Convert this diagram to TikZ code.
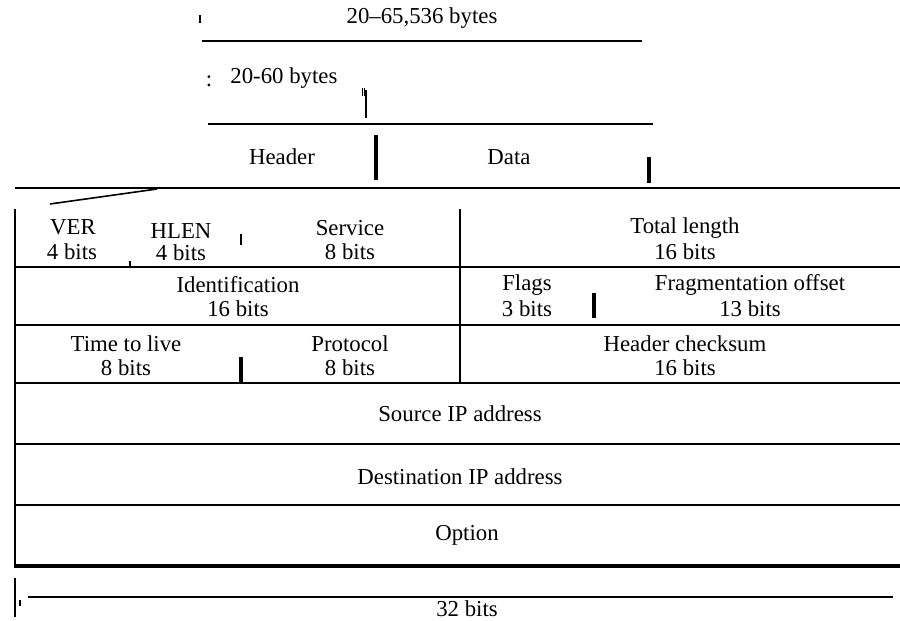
\documentclass[tikz,border=0pt]{standalone}
\usepackage{fontspec}
\setmainfont{Liberation Serif}
\begin{document}
\begin{tikzpicture}[x=0.5pt,y=-0.5pt,
  lbl/.style={inner sep=0pt,font=\fontsize{11.4}{13}\selectfont},
  rule/.style={line width=0.6pt},
  bar/.style={line width=2.4pt},
  tick/.style={line width=0.8pt}]
\useasboundingbox (0,0) rectangle (900,621);
% top: total length
\draw[tick] (200,15) -- (200,23);
\node[lbl] (tot) at (422,18) {20--65,536 bytes};
\draw[rule] (202,41) -- (642,41);
% header length
\node[lbl,anchor=west] (hdr) at (230,78) {20-60 bytes};
\node[lbl] (colon) at (209,81) {:};
\draw[line width=0.5pt] (362,88) -- (362,96) (364,88) -- (364,96);
\draw[tick] (366,90) -- (366,118);
\draw[rule] (208,124) -- (653,124);
% header / data
\node[lbl] (header) at (282,157) {Header};
\node[lbl] (data) at (509,157) {Data};
\draw[bar] (376,135) -- (376,180);
\draw[line width=1.6pt] (649,157) -- (649,183);
\draw[rule] (15,188) -- (900,188);
\draw[line width=0.8pt] (50,204) -- (157,189);
% table frame
\draw[rule] (15,209) -- (15,567);
\draw[rule] (460,209) -- (460,383);
\draw[rule] (15,267) -- (900,267);
\draw[rule] (15,325) -- (900,325);
\draw[rule] (15,383) -- (900,383);
\draw[rule] (15,444) -- (900,444);
\draw[rule] (15,505) -- (900,505);
\draw[line width=2.2pt] (14,566) -- (900,566);
% inner ticks
\draw[tick] (130,261) -- (130,268);
\draw[tick] (241,234) -- (241,245);
\draw[line width=1.6pt] (594,293) -- (594,318);
\draw[line width=1.6pt] (241,357) -- (241,383);
% row 1
\node[lbl] (ver) at (73,227) {VER};
\node[lbl] (verb) at (72,252) {4 bits};
\node[lbl] (hlen) at (181,231) {HLEN};
\node[lbl] (hlenb) at (181,253) {4 bits};
\node[lbl] (serv) at (350,228) {Service};
\node[lbl] (servb) at (350,252) {8 bits};
\node[lbl] (tl) at (685,228) {Total length};
\node[lbl] (tlb) at (685,252) {16 bits};
% row 2
\node[lbl] (id) at (238,285) {Identification};
\node[lbl] (idb) at (238,309) {16 bits};
\node[lbl] (fl) at (527,285) {Flags};
\node[lbl] (flb) at (527,309) {3 bits};
\node[lbl] (fo) at (750,285) {Fragmentation offset};
\node[lbl] (fob) at (750,309) {13 bits};
% row 3
\node[lbl] (ttl) at (126,344) {Time to live};
\node[lbl] (ttlb) at (126,368) {8 bits};
\node[lbl] (pr) at (350,344) {Protocol};
\node[lbl] (prb) at (350,368) {8 bits};
\node[lbl] (hc) at (685,344) {Header checksum};
\node[lbl] (hcb) at (685,368) {16 bits};
% rows 4-6
\node[lbl] (src) at (460,414) {Source IP address};
\node[lbl] (dst) at (460,477) {Destination IP address};
\node[lbl] (opt) at (467,535) {Option};
% bottom width
\draw[rule] (15,578) -- (15,617);
\draw[line width=1.2pt] (20,600) -- (20,606);
\draw[rule] (28,597) -- (893,597);
\node[lbl] (w) at (467,609) {32 bits};
\end{tikzpicture}
\end{document}
